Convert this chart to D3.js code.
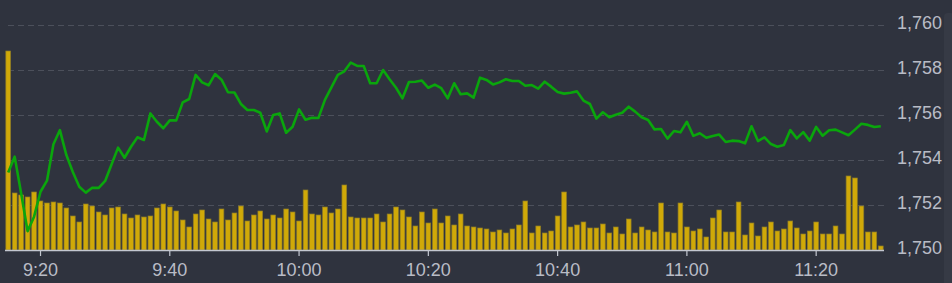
<!DOCTYPE html>
<html>
<head>
<meta charset="utf-8">
<style>
  html, body { margin: 0; padding: 0; background: #2f333e; overflow: hidden; }
  svg { display: block; }
</style>
</head>
<body></body>

<script src="https://d3js.org/d3.v7.min.js"></script>

<script>

// minute-by-minute session 9:15 - 11:30
var startTime = "9:15";
var minutes = 136;

var xTicks = ["9:20", "9:40", "10:00", "10:20", "10:40", "11:00", "11:20"];
var yTicks = [1750, 1752, 1754, 1756, 1758, 1760];

var price = [
  1753.44, 1754.15, 1752.52, 1750.84, 1751.48, 1752.59, 1753.08, 1754.70, 1755.33, 1754.22,
  1753.47, 1752.81, 1752.55, 1752.77, 1752.76, 1753.07, 1753.81, 1754.55, 1754.10, 1754.59,
  1755.01, 1754.89, 1756.07, 1755.70, 1755.41, 1755.76, 1755.76, 1756.56, 1756.71, 1757.78,
  1757.45, 1757.32, 1757.82, 1757.57, 1757.01, 1757.00, 1756.49, 1756.22, 1756.22, 1756.10,
  1755.27, 1756.00, 1756.07, 1755.21, 1755.48, 1756.25, 1755.79, 1755.88, 1755.87, 1756.67,
  1757.23, 1757.78, 1757.94, 1758.33, 1758.18, 1758.18, 1757.41, 1757.41, 1758.00, 1757.59,
  1757.21, 1756.74, 1757.47, 1757.48, 1757.53, 1757.21, 1757.35, 1757.19, 1756.74, 1757.41,
  1756.92, 1756.96, 1756.77, 1757.66, 1757.56, 1757.36, 1757.45, 1757.59, 1757.51, 1757.51,
  1757.30, 1757.33, 1757.17, 1757.48, 1757.26, 1757.02, 1756.95, 1756.99, 1757.05, 1756.64,
  1756.49, 1755.84, 1756.12, 1755.90, 1756.01, 1756.10, 1756.37, 1756.15, 1755.90, 1755.78,
  1755.36, 1755.38, 1754.95, 1755.29, 1755.23, 1755.70, 1755.07, 1755.19, 1754.99, 1755.07,
  1755.13, 1754.80, 1754.86, 1754.84, 1754.74, 1755.50, 1754.84, 1755.01, 1754.71, 1754.59,
  1754.67, 1755.33, 1754.96, 1755.24, 1754.86, 1755.47, 1755.08, 1755.32, 1755.35, 1755.23,
  1755.10, 1755.35, 1755.61, 1755.56, 1755.47, 1755.50
];

var volume = [
  199, 57, 55, 53, 58, 49, 47, 48, 47, 42,
  34, 28, 46, 44, 38, 35, 42, 43, 36, 32,
  35, 33, 34, 42, 46, 43, 39, 30, 23, 36,
  40, 31, 28, 41, 30, 37, 44, 29, 35, 39,
  31, 35, 32, 41, 38, 29, 60, 36, 35, 43,
  37, 41, 65, 33, 32, 32, 32, 36, 28, 36,
  43, 40, 33, 24, 38, 27, 41, 27, 34, 25,
  36, 24, 23, 22, 21, 18, 20, 17, 21, 25,
  49, 17, 24, 17, 19, 34, 58, 23, 25, 28,
  22, 22, 26, 17, 23, 16, 31, 17, 23, 20,
  18, 47, 18, 17, 47, 23, 19, 21, 13, 32,
  40, 18, 18, 48, 15, 27, 14, 23, 28, 19,
  21, 29, 22, 16, 19, 28, 16, 16, 24, 16,
  74, 72, 44, 18, 18, 4
];

var W = 952, H = 283;
var left = 5, right = 884, baseY = 250, topY = 25;

// category labels "H:MM" for each minute of the session
var t0 = d3.timeParse("%H:%M")(startTime);
var times = d3.range(minutes).map(i => d3.timeFormat("%-H:%M")(d3.timeMinute.offset(t0, i)));

var x = d3.scaleBand()
  .domain(times)
  .range([left, right])
  .paddingInner(0.27)
  .paddingOuter(0.13);

var y = d3.scaleLinear()
  .domain([1750, 1760])
  .range([baseY, topY]);

var yVol = d3.scaleLinear()
  .domain([0, 200])
  .range([baseY, baseY - 200]);

var svg = d3.select("body").append("svg")
  .attr("width", W)
  .attr("height", H);

svg.append("rect")
  .attr("width", W).attr("height", H)
  .attr("fill", "#2f333e");

// scrollbar-ish strip on the right edge
svg.append("rect")
  .attr("x", 944).attr("y", 13)
  .attr("width", 10).attr("height", H)
  .attr("rx", 4)
  .attr("fill", "#363a45");

// dashed grid
var grid = svg.append("g")
  .attr("transform", "translate(" + right + ",0)")
  .call(d3.axisLeft(y).tickValues(yTicks).tickSize(right - left).tickFormat(""));
grid.select(".domain").remove();
grid.selectAll("line")
  .attr("stroke", "#4c505b")
  .attr("stroke-dasharray", "6,4");

// volume bars
svg.append("g").selectAll("rect")
  .data(volume)
  .enter().append("rect")
    .attr("x", (d, i) => x(times[i]))
    .attr("y", d => yVol(d))
    .attr("width", x.bandwidth())
    .attr("height", d => baseY - yVol(d))
    .attr("fill", "#d0a908")
    .attr("stroke", "#8f7c25")
    .attr("stroke-width", 0.7);

// price line
var line = d3.line()
  .x((d, i) => x(times[i]) + x.bandwidth() / 2)
  .y(d => y(d));

svg.append("path")
  .datum(price)
  .attr("d", line)
  .attr("fill", "none")
  .attr("stroke", "#0aa60c")
  .attr("stroke-width", 2.6)
  .attr("stroke-linejoin", "round");

// x axis
var xAxis = svg.append("g")
  .attr("transform", "translate(0," + baseY + ")")
  .call(d3.axisBottom(x).tickValues(xTicks).tickSize(6).tickSizeOuter(0).tickPadding(7));
xAxis.select(".domain")
  .attr("d", "M" + left + ",0.5H" + right)
  .attr("stroke", "#c3c7d0")
  .attr("stroke-width", 1.4);
xAxis.selectAll(".tick line").attr("stroke", "#c3c7d0").attr("stroke-width", 1.2);
xAxis.selectAll("text")
  .attr("fill", "#b9bcc6")
  .attr("font-size", 18)
  .attr("font-family", "Liberation Sans, Arial, sans-serif");

// y axis on the right
var yAxis = svg.append("g")
  .attr("transform", "translate(" + right + ",0)")
  .call(d3.axisRight(y).tickValues(yTicks).tickSize(0).tickPadding(13).tickFormat(d3.format(",")));
yAxis.select(".domain").remove();
yAxis.selectAll("text")
  .attr("fill", "#b9bcc6")
  .attr("dy", "0.22em")
  .attr("font-size", 18)
  .attr("font-family", "Liberation Sans, Arial, sans-serif");

</script>
</html>
